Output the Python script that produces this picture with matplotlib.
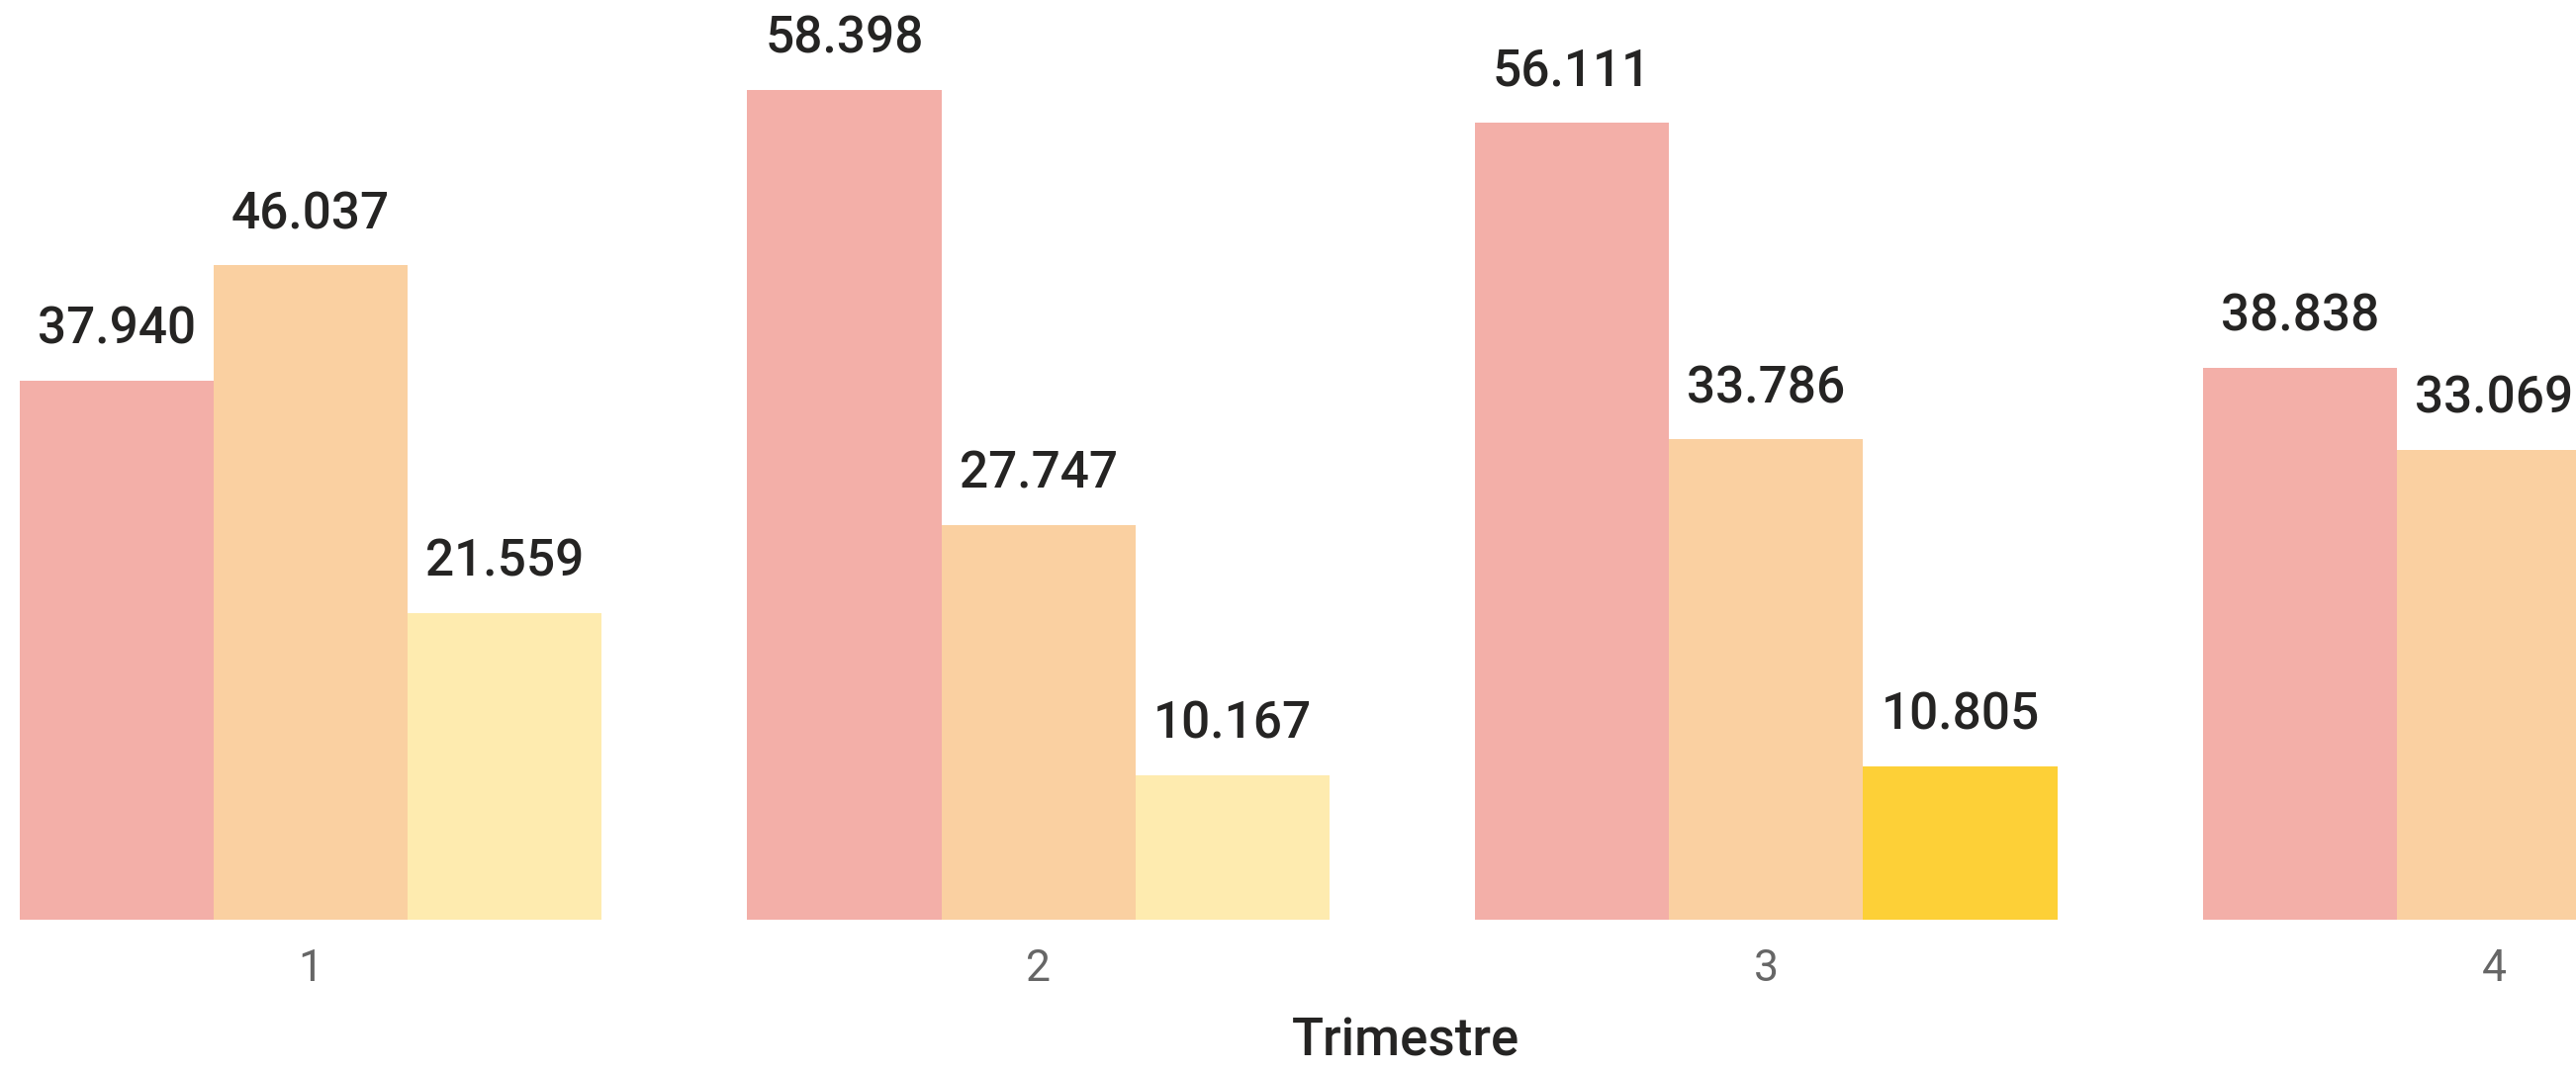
import numpy as np
import matplotlib
matplotlib.use("Agg")
import matplotlib.pyplot as plt

quarters = ["1", "2", "3", "4"]
serie_a = [37.940, 58.398, 56.111, 38.838]
serie_b = [46.037, 27.747, 33.786, 33.069]
serie_c = [21.559, 10.167, 10.805, np.nan]  # 4th bar not visible (cropped)

col_a = "#F3AFA8"
col_b = "#FAD0A1"
col_c = ["#FEEBAF", "#FEEBAF", "#FDD037", "#FEEBAF"]

plt.rcParams['font.family'] = ['Roboto', 'DejaVu Sans']

fig = plt.figure(figsize=(26.04, 10.83), dpi=100)
ax = fig.add_axes([0, 0.1413, 1, 0.8587])

x = np.arange(1, len(quarters) + 1)
w = 0.8 / 3

bars_a = ax.bar(x - w, serie_a, w, color=col_a)
bars_b = ax.bar(x, serie_b, w, color=col_b)
bars_c = ax.bar(x + w, serie_c, w, color=col_c)

for bars, vals in [(bars_a, serie_a), (bars_b, serie_b), (bars_c, serie_c)]:
    for b, v in zip(bars, vals):
        if np.isnan(v):
            continue
        ax.annotate("{:.3f}".format(v), (b.get_x() + b.get_width() / 2, v),
                    xytext=(0, 19), textcoords="offset points",
                    ha="center", va="bottom", fontsize=37, color="#252423",
                    fontweight="medium", annotation_clip=False)

ax.set_xlim(0.573, 4.113)
ax.set_ylim(0, 64.72)
ax.set_xticks(x)
ax.set_xticklabels(quarters)
ax.tick_params(axis="x", length=0, pad=21, labelsize=32, labelcolor="#666666")
ax.set_yticks([])
for s in ax.spines.values():
    s.set_visible(False)

ax.set_xlabel("Trimestre", fontsize=38, color="#252423", fontweight="medium")
ax.xaxis.set_label_coords(0.5457, -0.132)
ax.xaxis.label.set_va("center")

fig.savefig("out.png", dpi=100)
